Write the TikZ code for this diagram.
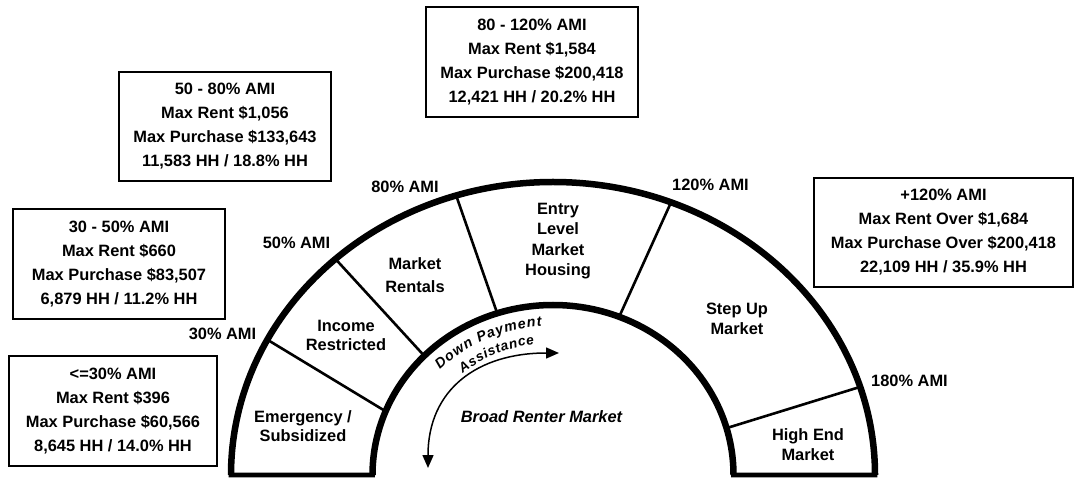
\documentclass[tikz,border=0pt]{standalone}
\usepackage{fontspec}
\setmainfont{Liberation Sans}
\usetikzlibrary{calc,arrows.meta,decorations.text}
\newcommand{\dpafont}{\fontsize{14.2}{15}\selectfont\bfseries\itshape}
\newcommand{\asfont}{\fontsize{13.6}{15}\selectfont\bfseries\itshape}
\begin{document}
\begin{tikzpicture}[x=1pt,y=1pt,
  every node/.style={font=\fontsize{16.4}{20}\selectfont\bfseries, inner sep=0pt},
  infobox/.style={draw, line width=1.6pt, align=center, font=\fontsize{16.4}{24}\selectfont\bfseries},
  seglabel/.style={align=center, font=\fontsize{16.4}{20.5}\selectfont\bfseries},
  amilabel/.style={font=\fontsize{16.4}{20}\selectfont\bfseries},
  archline/.style={line width=6.5pt},
  baseline4/.style={line width=4.6pt, line join=miter},
  divider/.style={line width=2.6pt},
  sweep/.style={line width=1.5pt, {Triangle[length=13pt,width=11pt]}-{Triangle[length=13pt,width=11pt]}},
]
\useasboundingbox (0,0) rectangle (1078,479);
\fill[white] (0,0) rectangle (1078,479);
\coordinate (C) at (553,4);

% info boxes
\node[infobox, minimum width=212pt, minimum height=109pt] (b5080) at (225,352.5)
  {50 - 80\% AMI\\Max Rent \$1,056\\Max Purchase \$133,643\\11,583 HH / 18.8\% HH};
\node[infobox, minimum width=212pt, minimum height=110pt] (b3050) at (119,215)
  {30 - 50\% AMI\\Max Rent \$660\\Max Purchase \$83,507\\6,879 HH / 11.2\% HH};
\node[infobox, minimum width=208pt, minimum height=110pt] (b30) at (113,68)
  {<=30\% AMI\\Max Rent \$396\\Max Purchase \$60,566\\8,645 HH / 14.0\% HH};
\node[infobox, minimum width=212pt, minimum height=110pt] (b80120) at (532,417)
  {80 - 120\% AMI\\Max Rent \$1,584\\Max Purchase \$200,418\\12,421 HH / 20.2\% HH};
\node[infobox, minimum width=259pt, minimum height=109pt] (b120) at (943.5,246.5)
  {+120\% AMI\\Max Rent Over \$1,684\\Max Purchase Over \$200,418\\22,109 HH / 35.9\% HH};

% divider end points
\coordinate (o30) at ($(C)+(152.5:322pt and 293pt)$);
\coordinate (i30) at ($(C)+(158:180.5pt and 170pt)$);
\coordinate (o50) at ($(C)+(132.5:322pt and 293pt)$);
\coordinate (i50) at ($(C)+(135.5:180.5pt and 170pt)$);
\coordinate (o80) at ($(C)+(107.5:322pt and 293pt)$);
\coordinate (i80) at ($(C)+(108:180.5pt and 170pt)$);
\coordinate (o120) at ($(C)+(68.5:322pt and 293pt)$);
\coordinate (i120) at ($(C)+(68.5:180.5pt and 170pt)$);
\coordinate (o180) at ($(C)+(17.5:322pt and 293pt)$);
\coordinate (i180) at ($(C)+(16:180.5pt and 170pt)$);

\draw[divider] (o30) -- (i30);
\draw[divider] (o50) -- (i50);
\draw[divider] (o80) -- (i80);
\draw[divider] (o120) -- (i120);
\draw[divider] (o180) -- (i180);

% arch
\coordinate (oL) at (231,4);
\coordinate (iR) at (733.5,4);
\draw[baseline4] (oL) arc[start angle=180,end angle=0,x radius=322pt,y radius=293pt]
  -- (iR) arc[start angle=0,end angle=180,x radius=180.5pt,y radius=170pt] -- cycle;
\draw[archline] (oL) arc[start angle=180,end angle=0,x radius=322pt,y radius=293pt];
\draw[archline] (iR) arc[start angle=0,end angle=180,x radius=180.5pt,y radius=170pt];

% AMI labels
\node[amilabel] (l30) at (222.5,145) {30\% AMI};
\node[amilabel] (l50) at (296.5,236) {50\% AMI};
\node[amilabel] (l80) at (405,292) {80\% AMI};
\node[amilabel] (l120) at (710.5,294) {120\% AMI};
\node[amilabel] (l180) at (909.5,98) {180\% AMI};

% segment labels
\node[seglabel, font=\fontsize{16.4}{19}\selectfont\bfseries] (sEm) at (303,53) {Emergency /\\Subsidized};
\node[seglabel, font=\fontsize{16.4}{19}\selectfont\bfseries] (sIn) at (346,144) {Income\\Restricted};
\node[seglabel, font=\fontsize{16.4}{23}\selectfont\bfseries] (sMr) at (415,204) {Market\\Rentals};
\node[seglabel] (sEl) at (558,238) {Entry\\Level\\Market\\Housing};
\node[seglabel] (sSu) at (737,160) {Step Up\\Market};
\node[seglabel, font=\fontsize{16.4}{20}\selectfont\bfseries] (sHe) at (808,34) {High End\\Market};
\node[font=\fontsize{16.4}{20}\selectfont\bfseries\itshape] (sBr) at (541.5,62) {Broad Renter Market};

% curved text
\begingroup
\dpafont
\path[decorate, decoration={text along path,
  text={Down Payment},
  text align={fit to path}}]
  ($(C)+(135:160pt and 149pt)$) arc[start angle=135,end angle=94,x radius=160pt,y radius=149pt];
\endgroup
\begingroup
\asfont
\path[decorate, decoration={text along path,
  text={Assistance},
  text align={fit to path}}]
  ($(C)+(129.5:142pt and 132pt)$) arc[start angle=129.5,end angle=97.5,x radius=142pt,y radius=132pt];
\endgroup

% sweep arrow
\coordinate (aS) at (428,11);
\coordinate (aE) at (559,126);
\draw[sweep] (aS) .. controls (428,90) and (478,126) .. (aE);
\end{tikzpicture}
\end{document}
